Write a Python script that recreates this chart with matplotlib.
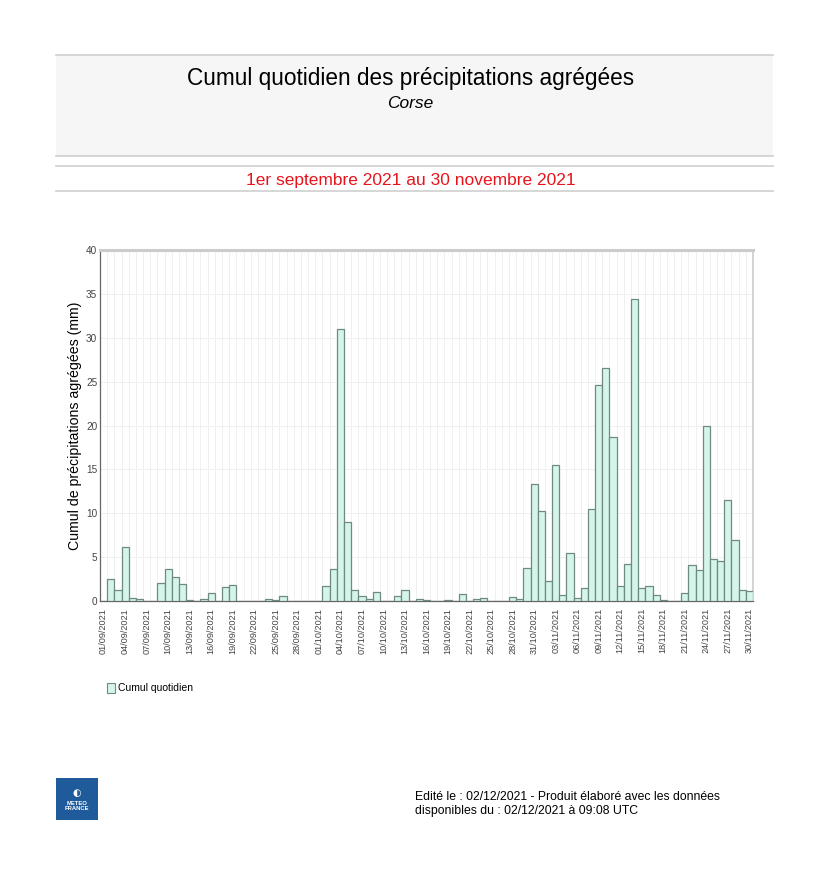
import matplotlib
matplotlib.use("Agg")
import matplotlib.pyplot as plt
from matplotlib.patches import Rectangle
from matplotlib.lines import Line2D
import numpy as np
import pandas as pd

plt.rcParams['font.family'] = ['Liberation Sans', 'DejaVu Sans']

# ---- data (mm per day) ----
start_date = "2021-09-01"
end_date = "2021-11-30"
sep_values = [0, 2.5, 1.2, 6.2, 0.3, 0.2, 0, 0.05, 2.0, 3.6,
              2.7, 1.95, 0.1, 0, 0.2, 0.9, 0.05, 1.55, 1.8, 0,
              0, 0, 0, 0.2, 0.1, 0.6, 0, 0, 0, 0]
oct_values = [0, 1.7, 3.7, 31.0, 9.0, 1.2, 0.6, 0.2, 1.0, 0.05,
              0.05, 0.6, 1.3, 0, 0.2, 0.1, 0, 0, 0.15, 0,
              0.8, 0.05, 0.2, 0.3, 0.05, 0.05, 0, 0.5, 0.2, 3.8, 13.3]
nov_values = [10.2, 2.25, 15.5, 0.65, 5.5, 0.3, 1.45, 10.45, 24.6, 26.5,
              18.7, 1.7, 4.2, 34.4, 1.45, 1.7, 0.65, 0.1, 0.05, 0.05,
              0.95, 4.1, 3.5, 20.0, 4.75, 4.55, 11.5, 7.0, 1.2, 1.1]
y_ticks = [0, 5, 10, 15, 20, 25, 30, 35, 40]

title = "Cumul quotidien des précipitations agrégées"
subtitle = "Corse"
period = "1er septembre 2021 au 30 novembre 2021"
ylabel = "Cumul de précipitations agrégées (mm)"
legend_label = "Cumul quotidien"
footer = ("Edité le : 02/12/2021 - Produit élaboré avec les données\n"
          "disponibles du : 02/12/2021 à 09:08 UTC")

values = sep_values + oct_values + nov_values
dates = pd.date_range(start_date, end_date, freq="D")
labels = [d.strftime("%d/%m/%Y") for d in dates]
n = len(values)
x = np.arange(n)

W, H = 821, 884
fig = plt.figure(figsize=(W / 100, H / 100), dpi=100)

def fx(px):
    return px / W

def fy(py):
    return 1 - py / H

# ---- header ----
fig.patches.append(Rectangle((fx(56), fy(156)), fx(773) - fx(56), fy(55) - fy(156),
                             transform=fig.transFigure, facecolor="#f6f6f6",
                             edgecolor="none", zorder=0))
for yy in (55, 156, 166, 191):
    fig.lines.append(Line2D([fx(56), fx(773)], [fy(yy), fy(yy)], transform=fig.transFigure,
                            color="#cfcfcf", lw=1.2))
fig.text(0.5, fy(78), title, ha="center", va="center", fontsize=16.3, color="black")
fig.text(0.5, fy(104), subtitle, ha="center", va="center", fontsize=12.5,
         style="italic", color="black")
fig.text(0.5, fy(180), period, ha="center", va="center", fontsize=12.5, color="#e8141c")

# ---- axes ----
ax = fig.add_axes([fx(100), fy(601), fx(753) - fx(100), fy(250) - fy(601)])
ax.bar(x, values, width=1.0, align="center", color="#d5f5ea", edgecolor="#6f8a80",
       linewidth=0.9, zorder=3)
ax.set_xlim(-0.5, n - 0.5)
ax.set_ylim(0, 40)
ax.set_yticks(y_ticks)
ax.set_yticklabels([str(v) for v in y_ticks], fontsize=7.2, color="#444444")
ax.set_xticks(x[::3])
ax.set_xticklabels(labels[::3], rotation=90, fontsize=6.6, color="#444444",
                   family=["Liberation Sans Narrow", "Liberation Sans", "DejaVu Sans"])
ax.set_xticks(np.arange(n + 1) - 0.5, minor=True)
ax.grid(True, which="minor", axis="x", color="#f0f0f0", lw=0.7, zorder=0)
ax.grid(True, which="major", axis="y", color="#f0f0f0", lw=0.7, zorder=0)
ax.set_axisbelow(True)
ax.tick_params(axis="x", which="minor", length=0)
ax.tick_params(axis="y", which="major", length=0, pad=2)
ax.tick_params(axis="x", which="major", length=0, pad=5)
for s in ("left", "bottom"):
    ax.spines[s].set_color("#666666")
    ax.spines[s].set_linewidth(0.9)
ax.spines["top"].set_color("#cccccc")
ax.spines["top"].set_linewidth(2.2)
ax.spines["right"].set_color("#cccccc")
ax.spines["right"].set_linewidth(1.2)
ax.set_ylabel(ylabel, fontsize=10.2, color="black", labelpad=3)

# ---- legend ----
fig.patches.append(Rectangle((fx(107), fy(693)), fx(8), fy(683) - fy(693),
                             transform=fig.transFigure, facecolor="#d5f5ea",
                             edgecolor="#6f8a80", lw=0.8))
fig.text(fx(118), fy(688), legend_label, ha="left", va="center", fontsize=7.5, color="black")

# ---- footer ----
fig.patches.append(Rectangle((fx(56), fy(820)), fx(42), fy(778) - fy(820),
                             transform=fig.transFigure, facecolor="#1f5b9b",
                             edgecolor="none"))
fig.text(fx(77), fy(793), "◐", ha="center", va="center", fontsize=7, color="white",
         family=["DejaVu Sans"])
fig.text(fx(77), fy(806), "METEO\nFRANCE", ha="center", va="center", fontsize=4.2,
         color="white", weight="bold", linespacing=1.0)
fig.text(fx(415), fy(804), footer, ha="left", va="center", fontsize=8.8,
         color="black", linespacing=1.2)

fig.savefig("out.png", dpi=100, facecolor="white")
